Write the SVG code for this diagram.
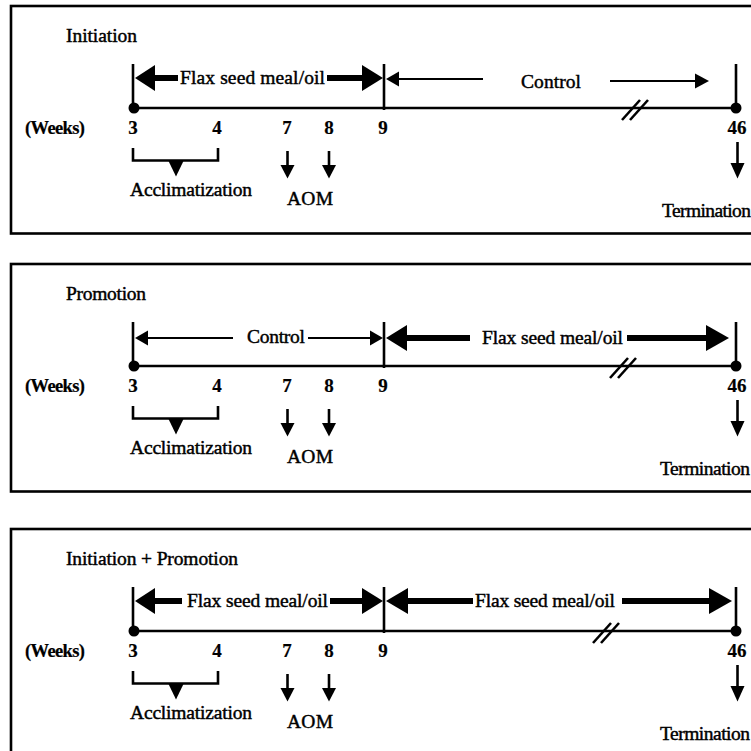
<svg xmlns="http://www.w3.org/2000/svg" width="751" height="751" viewBox="0 0 751 751">
<style>
.t{font-family:"Liberation Serif","Times New Roman",serif;font-size:19.5px;fill:#000;stroke:#000;stroke-width:0.45}
.b{font-weight:bold;font-size:19px;stroke-width:0.2}
.w{font-size:18.5px}
.m{text-anchor:middle}
.box{fill:none;stroke:#000;stroke-width:2.6}
.ln{stroke:#000;stroke-width:2.6;fill:none}
.thin{stroke:#000;stroke-width:2;fill:none}
.thick{stroke:#000;stroke-width:6;fill:none}
.hd{fill:#000;stroke:none}
</style>
<defs>
<circle id="dot" r="5.5" fill="#000"/>
</defs>

<!-- Panel 1: Initiation -->
<g id="panel-initiation">
  <rect class="box" x="11" y="6" width="770" height="227.5"/>
  <g id="p1-title"><text class="t" x="66" y="42" textLength="71">Initiation</text></g>
  <g id="p1-timeline">
    <line class="ln" x1="133" y1="108" x2="736" y2="108"/>
    <line class="ln" x1="133" y1="64" x2="133" y2="108"/>
    <line class="ln" x1="384" y1="64" x2="384" y2="110"/>
    <line class="ln" x1="736" y1="64" x2="736" y2="108"/>
    <use href="#dot" x="134" y="108"/>
    <use href="#dot" x="736" y="108"/>
    <line class="ln" x1="622" y1="120" x2="640" y2="100"/>
    <line class="ln" x1="630" y1="120" x2="648" y2="100"/>
  </g>
  <g id="p1-weeks">
    <text class="t b w" x="25" y="134" textLength="60">(Weeks)</text>
    <text class="t b m" x="133" y="134">3</text>
    <text class="t b m" x="217" y="134">4</text>
    <text class="t b m" x="287" y="134">7</text>
    <text class="t b m" x="329" y="134">8</text>
    <text class="t b m" x="383" y="134">9</text>
    <text class="t b m" x="737" y="134">46</text>
  </g>
  <g id="p1-acclimatization">
    <path class="ln" d="M133,148 V160.5 H218 V148"/>
    <polygon class="hd" points="168,160 184,160 176,176.5"/>
    <text class="t" x="130" y="196" textLength="122">Acclimatization</text>
  </g>
  <g id="p1-aom">
    <text class="t" x="287" y="205" textLength="46">AOM</text>
  </g>
  <g id="p1-termination">
    <text class="t" x="662" y="217" textLength="89">Termination</text>
  </g>
  <g id="p1-connectors">
    <line class="thick" x1="154" y1="78" x2="178" y2="78"/>
    <polygon class="hd" points="135,78 155,65 155,91"/>
    <line class="thick" x1="327" y1="78" x2="363" y2="78"/>
    <polygon class="hd" points="383,78 362,65 362,91"/>
    <line class="thin" x1="397" y1="79" x2="483" y2="79"/>
    <polygon class="hd" points="386,79 399,71.5 399,86.5"/>
    <line class="thin" x1="610" y1="81" x2="697" y2="81"/>
    <polygon class="hd" points="709,81 695,73.5 695,88.5"/>
    <line class="ln" x1="287.5" y1="151" x2="287.5" y2="166"/>
    <polygon class="hd" points="280.5,165 294.5,165 287.5,178.5"/>
    <line class="ln" x1="329" y1="151" x2="329" y2="166"/>
    <polygon class="hd" points="322,165 336,165 329,178.5"/>
    <line class="ln" x1="737.5" y1="142" x2="737.5" y2="164"/>
    <polygon class="hd" points="730.5,163 744.5,163 737.5,178.5"/>
  </g>
  <text class="t" x="180" y="84" textLength="145">Flax seed meal/oil</text>
  <text class="t" x="521" y="88" textLength="60">Control</text>
</g>

<!-- Panel 2: Promotion -->
<g id="panel-promotion" transform="translate(0,258)">
  <rect class="box" x="11" y="6" width="770" height="227.5"/>
  <g id="p2-title"><text class="t" x="66" y="42" textLength="80">Promotion</text></g>
  <g id="p2-timeline">
    <line class="ln" x1="133" y1="108" x2="736" y2="108"/>
    <line class="ln" x1="133" y1="64" x2="133" y2="108"/>
    <line class="ln" x1="384" y1="64" x2="384" y2="110"/>
    <line class="ln" x1="736" y1="64" x2="736" y2="108"/>
    <use href="#dot" x="134" y="108"/>
    <use href="#dot" x="736" y="108"/>
    <line class="ln" x1="610" y1="120" x2="628" y2="100"/>
    <line class="ln" x1="618" y1="120" x2="636" y2="100"/>
  </g>
  <g id="p2-weeks">
    <text class="t b w" x="25" y="134" textLength="60">(Weeks)</text>
    <text class="t b m" x="133" y="134">3</text>
    <text class="t b m" x="217" y="134">4</text>
    <text class="t b m" x="287" y="134">7</text>
    <text class="t b m" x="329" y="134">8</text>
    <text class="t b m" x="383" y="134">9</text>
    <text class="t b m" x="737" y="134">46</text>
  </g>
  <g id="p2-acclimatization">
    <path class="ln" d="M133,148 V160.5 H218 V148"/>
    <polygon class="hd" points="168,160 184,160 176,176.5"/>
    <text class="t" x="130" y="196" textLength="122">Acclimatization</text>
  </g>
  <g id="p2-aom">
    <text class="t" x="287" y="205" textLength="46">AOM</text>
  </g>
  <g id="p2-termination">
    <text class="t" x="660" y="217" textLength="90">Termination</text>
  </g>
  <g id="p2-connectors">
    <line class="thin" x1="147" y1="80" x2="233" y2="80"/>
    <polygon class="hd" points="135,80 148,72.5 148,87.5"/>
    <line class="thin" x1="308" y1="80" x2="372" y2="80"/>
    <polygon class="hd" points="383,80 370,72.5 370,87.5"/>
    <line class="thick" x1="406" y1="80" x2="470" y2="80"/>
    <polygon class="hd" points="386,80 407,67 407,93"/>
    <line class="thick" x1="627" y1="80" x2="707" y2="80"/>
    <polygon class="hd" points="729,80 706,67 706,93"/>
    <line class="ln" x1="287.5" y1="151" x2="287.5" y2="166"/>
    <polygon class="hd" points="280.5,165 294.5,165 287.5,178.5"/>
    <line class="ln" x1="329" y1="151" x2="329" y2="166"/>
    <polygon class="hd" points="322,165 336,165 329,178.5"/>
    <line class="ln" x1="737.5" y1="142" x2="737.5" y2="164"/>
    <polygon class="hd" points="730.5,163 744.5,163 737.5,178.5"/>
  </g>
  <text class="t" x="247" y="85" textLength="58">Control</text>
  <text class="t" x="482" y="86" textLength="141">Flax seed meal/oil</text>
</g>

<!-- Panel 3: Initiation + Promotion -->
<g id="panel-initiation-promotion" transform="translate(0,523)">
  <rect class="box" x="11" y="6" width="770" height="227.5"/>
  <g id="p3-title"><text class="t" x="66" y="42" textLength="172">Initiation + Promotion</text></g>
  <g id="p3-timeline">
    <line class="ln" x1="133" y1="108" x2="736" y2="108"/>
    <line class="ln" x1="133" y1="64" x2="133" y2="108"/>
    <line class="ln" x1="384" y1="64" x2="384" y2="110"/>
    <line class="ln" x1="736" y1="64" x2="736" y2="108"/>
    <use href="#dot" x="134" y="108"/>
    <use href="#dot" x="736" y="108"/>
    <line class="ln" x1="593" y1="120" x2="611" y2="100"/>
    <line class="ln" x1="601" y1="120" x2="619" y2="100"/>
  </g>
  <g id="p3-weeks">
    <text class="t b w" x="25" y="134" textLength="60">(Weeks)</text>
    <text class="t b m" x="133" y="134">3</text>
    <text class="t b m" x="217" y="134">4</text>
    <text class="t b m" x="287" y="134">7</text>
    <text class="t b m" x="329" y="134">8</text>
    <text class="t b m" x="383" y="134">9</text>
    <text class="t b m" x="737" y="134">46</text>
  </g>
  <g id="p3-acclimatization">
    <path class="ln" d="M133,148 V160.5 H218 V148"/>
    <polygon class="hd" points="168,160 184,160 176,176.5"/>
    <text class="t" x="130" y="196" textLength="122">Acclimatization</text>
  </g>
  <g id="p3-aom">
    <text class="t" x="287" y="205" textLength="46">AOM</text>
  </g>
  <g id="p3-termination">
    <text class="t" x="660" y="217" textLength="90">Termination</text>
  </g>
  <g id="p3-connectors">
    <line class="thick" x1="154" y1="78" x2="182" y2="78"/>
    <polygon class="hd" points="135,78 155,65 155,91"/>
    <line class="thick" x1="330" y1="78" x2="363" y2="78"/>
    <polygon class="hd" points="383,78 362,65 362,91"/>
    <line class="thick" x1="407" y1="78" x2="473" y2="78"/>
    <polygon class="hd" points="386,78 408,65 408,91"/>
    <line class="thick" x1="622" y1="78" x2="710" y2="78"/>
    <polygon class="hd" points="732,78 709,65 709,91"/>
    <line class="ln" x1="287.5" y1="151" x2="287.5" y2="166"/>
    <polygon class="hd" points="280.5,165 294.5,165 287.5,178.5"/>
    <line class="ln" x1="329" y1="151" x2="329" y2="166"/>
    <polygon class="hd" points="322,165 336,165 329,178.5"/>
    <line class="ln" x1="737.5" y1="142" x2="737.5" y2="164"/>
    <polygon class="hd" points="730.5,163 744.5,163 737.5,178.5"/>
  </g>
  <text class="t" x="187" y="84" textLength="141">Flax seed meal/oil</text>
  <text class="t" x="475" y="84" textLength="140">Flax seed meal/oil</text>
</g>
</svg>
